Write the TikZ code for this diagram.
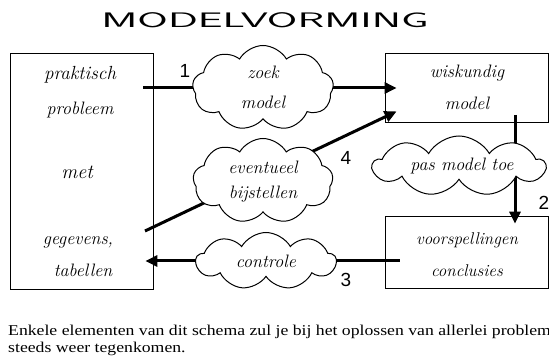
\documentclass[tikz,border=0pt]{standalone}
\usepackage{fontspec}
\newfontfamily\bijschriftfont{Liberation Serif}
\newfontfamily\cijferfont{Liberation Sans}
\usetikzlibrary{calc}
\usetikzlibrary{arrows.meta}
\usetikzlibrary{shapes.symbols}
\usetikzlibrary{backgrounds}
\tikzset{
  box/.style={draw, line width=0.8pt, inner sep=0pt},
  wolk/.style={cloud, draw, fill=white, line width=1pt, cloud puffs=9,
    cloud puff arc=120, cloud ignores aspect, inner sep=0pt},
  pijl/.style={line width=3pt, -{Triangle[length=12pt,width=11pt]}},
  hand/.style={font=\fontsize{18}{20}\selectfont\itshape},
  nummer/.style={font=\cijferfont\fontsize{19}{20}\selectfont},
  regel/.style={anchor=base west, inner sep=0pt, font=\bijschriftfont\fontsize{15}{17}\selectfont},
}

\begin{document}
\begin{tikzpicture}[x=1pt,y=-1pt]
  \useasboundingbox (0,0) rectangle (549,358);
  \node[font=\sffamily\fontsize{21}{22}\selectfont] (titel) at (265,20) {\scalebox{2.1}[1]{MODELVORMING}};
  % vakken
  \node[box, minimum width=143, minimum height=236] (probleem) at (81.5,171) {};
  \node[box, minimum width=163, minimum height=69] (model) at (466.5,87.5) {};
  \node[box, minimum width=163, minimum height=72] (voorspelling) at (466.5,252) {};
  \node[hand, font=\fontsize{19}{20}\selectfont\itshape] (praktisch) at (80,75) {praktisch};
  \node[hand] (probl) at (80,110) {probleem};
  \node[hand, font=\fontsize{20}{20}\selectfont\itshape] (met) at (77,172) {met};
  \node[hand] (gegevens) at (78,242) {gegevens,};
  \node[hand] (tabellen) at (83,270) {tabellen};
  \node[hand] (wiskundig) at (467,73) {wiskundig};
  \node[hand] (model-t) at (467,103) {model};
  \node[hand, font=\fontsize{17}{20}\selectfont\itshape] (voorsp-t) at (467,240) {voorspellingen};
  \node[hand, font=\fontsize{17}{20}\selectfont\itshape] (conclusies) at (467,271) {conclusies};
  % wolken
  \node[wolk, minimum width=141, minimum height=85] (zoek) at (263,88) {};
  \node[wolk, minimum width=140, minimum height=85] (bijstellen) at (263,181) {};
  \node[wolk, minimum width=172, minimum height=60] (pas) at (459,166) {};
  \node[wolk, minimum width=140, minimum height=57] (controle) at (266,261) {};
  \node[hand] (zoek-t) at (263,72) {zoek};
  \node[hand] (zoek-m) at (263,102) {model};
  \node[hand] (eventueel) at (263,167) {eventueel};
  \node[hand] (bijst-t) at (263,194) {bijstellen};
  \node[hand] (pas-t) at (462,166) {pas model toe};
  \node[hand] (controle-t) at (266,261) {controle};
  % pijlen
  \coordinate (vier) at (145,231);
  \coordinate (twee) at (515,115);
  \begin{scope}[on background layer]
    \draw[pijl] ([xshift=-10pt]probleem.east |- zoek.center) -- (zoek.center)
      -- ($(model.west |- zoek.center)+(12,0)$);
    \draw[pijl] (vier) -- ([xshift=12pt,yshift=11pt]model.south west);
    \draw[pijl] (twee) -- ($(twee |- voorspelling.north)+(0,8)$);
    \draw[pijl] ($(voorspelling.west |- controle.center)+(15,0)$)
      -- ($(probleem.east |- controle.center)+(-8,0)$);
  \end{scope}
  \node[nummer] (n1) at (185,71) {1};
  \node[nummer] (n2) at (544,203) {2};
  \node[nummer] (n3) at (346,280) {3};
  \node[nummer] (n4) at (346,158) {4};
  % onderschrift
  \node[regel] (regel1) at (8,335)
    {\scalebox{1.18}[1]{Enkele elementen van dit schema zul je bij het oplossen van allerlei problemen}};
  \node[regel] (regel2) at (8,352) {\scalebox{1.18}[1]{steeds weer tegenkomen.}};
\end{tikzpicture}
\end{document}
